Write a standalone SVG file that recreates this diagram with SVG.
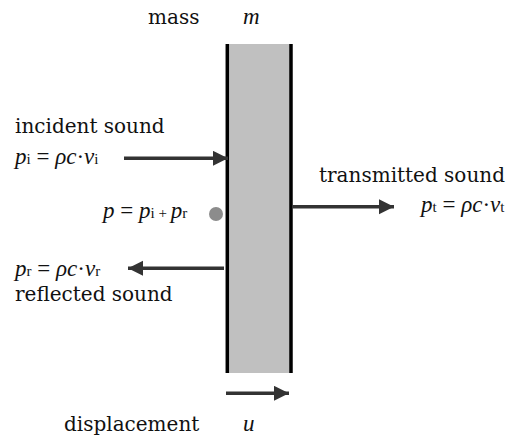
<svg xmlns="http://www.w3.org/2000/svg" width="508" height="439" viewBox="0 0 508 439">
<defs>
<style>
text{font-family:"DejaVu Serif","Liberation Serif",serif;font-size:20px;fill:#111}
.f{font-family:"Liberation Serif","DejaVu Serif",serif;font-size:23px}
.it{font-style:italic}
.sub{font-size:15px;font-style:normal}
.conn line{stroke:#333;stroke-width:3.5;fill:none}
</style>
<marker id="ah" markerUnits="userSpaceOnUse" markerWidth="16" markerHeight="16" refX="15" refY="7.5" orient="auto">
<path d="M0,0 L15,7.5 L0,15 Z" fill="#333"/>
</marker>
</defs>
<rect width="508" height="439" fill="#fff"/>
<g id="wall">
<rect x="228" y="44" width="62" height="329" fill="#c0c0c0"/>
<line x1="227.3" y1="44" x2="227.3" y2="373" stroke="#000" stroke-width="3.5"/>
<line x1="291" y1="44" x2="291" y2="373" stroke="#000" stroke-width="3.5"/>
</g>
<g id="mass-label">
<text x="148" y="24">mass</text>
<text x="243" y="24" class="f it">m</text>
</g>
<g id="incident">
<text x="15" y="133">incident sound</text>
<text x="15" y="164" class="f"><tspan class="it">p</tspan><tspan class="sub">i</tspan> = <tspan class="it">ρc</tspan>·<tspan class="it">v</tspan><tspan class="sub">i</tspan></text>
</g>
<g id="pressure">
<text x="103" y="218" class="f"><tspan class="it">p</tspan> = <tspan class="it">p</tspan><tspan class="sub">i </tspan><tspan class="sub">+ </tspan><tspan class="it">p</tspan><tspan class="sub">r</tspan></text>
<circle cx="216" cy="214" r="7" fill="#8c8c8c"/>
</g>
<g id="reflected">
<text x="15" y="276" class="f"><tspan class="it">p</tspan><tspan class="sub">r</tspan> = <tspan class="it">ρc</tspan>·<tspan class="it">v</tspan><tspan class="sub">r</tspan></text>
<text x="15" y="301">reflected sound</text>
</g>
<g id="transmitted">
<text x="319" y="182">transmitted sound</text>
<text x="421" y="212" class="f"><tspan class="it">p</tspan><tspan class="sub">t</tspan> = <tspan class="it">ρc</tspan>·<tspan class="it">v</tspan><tspan class="sub">t</tspan></text>
</g>
<g id="displacement">
<text x="64" y="431">displacement</text>
<text x="243" y="431" class="f it">u</text>
</g>
<g id="connectors" class="conn">
<line x1="124" y1="158.3" x2="228" y2="158.3" marker-end="url(#ah)"/>
<line x1="224" y1="268.3" x2="128" y2="268.3" marker-end="url(#ah)"/>
<line x1="292" y1="206.7" x2="394" y2="206.7" marker-end="url(#ah)"/>
<line x1="226" y1="393.3" x2="289" y2="393.3" marker-end="url(#ah)"/>
</g>
</svg>
